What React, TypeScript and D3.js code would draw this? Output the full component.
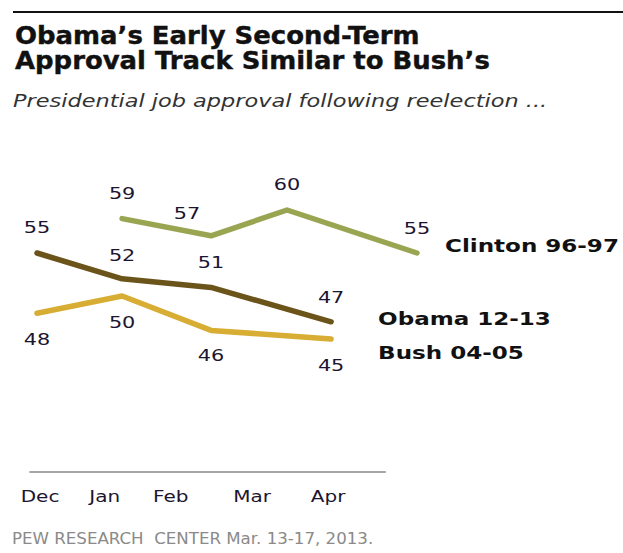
import React from "react";
import * as d3 from "d3";

// ---- data ----
// x positions in "month units" as laid out in the original (irregular spacing)
const obamaX = [0, 1.12, 2.29, 3.87];
const obamaValues = [55, 52, 51, 47];
const bushX = [0, 1.12, 2.29, 3.87];
const bushValues = [48, 50, 46, 45];
const clintonX = [1.12, 2.29, 3.29, 5];
const clintonValues = [59, 57, 60, 55];

const monthLabels = ["Dec", "Jan", "Feb", "Mar", "Apr"];
const monthTickPos = [0.04, 0.89, 1.76, 2.83, 3.83];

const seriesNames = ["Clinton 96-97", "Obama 12-13", "Bush 04-05"];

const W = 623;
const H = 553;
const FONT = "'DejaVu Sans', Verdana, sans-serif";

export default function App() {
  const x = d3.scaleLinear().domain([0, 5]).range([37, 417]);
  const y = d3.scaleLinear().domain([30, 60]).range([468, 210]);

  const line = d3
    .line<[number, number]>()
    .x((d) => x(d[0]))
    .y((d) => y(d[1]));

  const series = [
    { name: seriesNames[0], xs: clintonX, vs: clintonValues, color: "#9aa552", labelDy: [-20, -17, -20, -19], labelDx: [0, -24, 0, 0], nameDx: 28, nameDy: -1 },
    { name: seriesNames[1], xs: obamaX, vs: obamaValues, color: "#6b5419", labelDy: [-20, -18, -19, -19], labelDx: [0, 0, 0, 0], nameDx: 47, nameDy: 3 },
    { name: seriesNames[2], xs: bushX, vs: bushValues, color: "#d8ad34", labelDy: [32, 32, 31, 32], labelDx: [0, 0, 0, 0], nameDx: 47, nameDy: 20 },
  ];

  const numColor = "#1c1530";

  return (
    <svg
      width={W}
      height={H}
      style={{ position: "absolute", left: 0, top: 0, background: "#fff" }}
      fontFamily={FONT}
    >
      <rect x={0} y={0} width={W} height={H} fill="#fff" />
      <line x1={13} x2={W} y1={12} y2={12} stroke="#111" strokeWidth={2} />
      <text
        transform="translate(15,44) scale(1.08,1)"
        fontSize={24}
        fontWeight="bold"
        fill="#111"
        stroke="#111"
        strokeWidth={0.4}
      >
        Obama’s Early Second-Term
      </text>
      <text
        transform="translate(15,69) scale(1.08,1)"
        fontSize={24}
        fontWeight="bold"
        fill="#111"
        stroke="#111"
        strokeWidth={0.4}
      >
        Approval Track Similar to Bush’s
      </text>
      <text
        transform="translate(13,107) scale(1.32,1)"
        fontSize={17}
        fontStyle="italic"
        fill="#333"
      >
        Presidential job approval following reelection ...
      </text>

      {series.map((s) => {
        const pts: [number, number][] = s.xs.map((xv, i) => [xv, s.vs[i]]);
        const last = pts[pts.length - 1];
        return (
          <g key={s.name}>
            <path
              d={line(pts) || ""}
              fill="none"
              stroke={s.color}
              strokeWidth={5.5}
              strokeLinecap="round"
              strokeLinejoin="round"
            />
            {pts.map((p, i) => (
              <text
                key={i}
                transform={`translate(${x(p[0]) + s.labelDx[i]},${y(p[1]) + s.labelDy[i]}) scale(1.3,1)`}
                textAnchor="middle"
                fontSize={16}
                fill={numColor}
              >
                {p[1]}
              </text>
            ))}
            <text
              transform={`translate(${x(last[0]) + s.nameDx},${y(last[1]) + s.nameDy}) scale(1.28,1)`}
              fontSize={18}
              fontWeight="bold"
              fill="#111"
            >
              {s.name}
            </text>
          </g>
        );
      })}

      <line x1={x(-0.1)} x2={x(4.59)} y1={472} y2={472} stroke="#888" strokeWidth={1.5} />
      {monthLabels.map((m, i) => (
        <text
          key={m}
          transform={`translate(${x(monthTickPos[i])},502) scale(1.25,1)`}
          textAnchor="middle"
          fontSize={16}
          fill={numColor}
        >
          {m}
        </text>
      ))}

      <text
        transform="translate(12,544) scale(1.11,1)"
        fontSize={15}
        fill="#8a8a8a"
        style={{ whiteSpace: "pre" }}
      >
        PEW RESEARCH  CENTER Mar. 13-17, 2013.
      </text>
    </svg>
  );
}
